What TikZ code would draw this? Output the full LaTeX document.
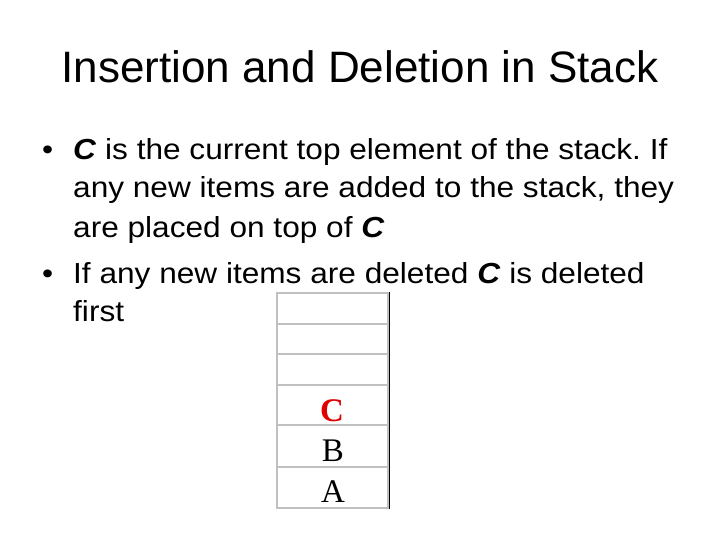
\documentclass[tikz,border=0pt]{standalone}
\usepackage{fontspec}
\setmainfont{Liberation Sans}
\newfontfamily\bodyfont[FakeStretch=1.09]{Liberation Sans}
\newfontfamily\stackfont{Liberation Serif}
\definecolor{cellgray}{RGB}{192,192,192}
\definecolor{topred}{RGB}{224,0,0}
\frenchspacing
\tikzset{
	line/.style={anchor=base west, inner sep=0pt, font=\fontsize{29}{29}\bodyfont},
	dot/.style={anchor=base west, inner sep=0pt, font=\fontsize{29}{29}\bodyfont},
	cell/.style={draw=cellgray, line width=2pt},
	item/.style={anchor=base, inner sep=0pt, font=\fontsize{33}{33}\stackfont}
}
\begin{document}
\begin{tikzpicture}[x=1pt, y=-1pt]
			%%%%% START %%%%%
			\useasboundingbox[fill=white] (0, 0) rectangle (720, 540);
			
			\node[anchor=base, inner sep=0pt, font=\fontsize{44}{44}\selectfont] (title) at (360, 83) {Insertion and Deletion in Stack};
			
			\node[dot] (b1) at (42, 160) {\textbullet};
			\node[line] (l1) at (73, 160) {\textbf{\textit{C}} is the current top element of the stack. If};
			\node[line] (l2) at (73, 198) {any new items are added to the stack, they};
			\node[line] (l3) at (73, 237) {are placed on top of \textbf{\textit{C}}};
			\node[dot] (b2) at (42, 283) {\textbullet};
			\node[line] (l4) at (73, 283) {If any new items are deleted \textbf{\textit{C}} is deleted};
			\node[line] (l5) at (73, 321) {first};
			
			\draw[cell] (277, 293) rectangle (388, 324);
			\draw[cell] (277, 324) rectangle (388, 354);
			\draw[cell] (277, 354) rectangle (388, 385);
			\draw[cell] (277, 385) rectangle (388, 425);
			\draw[cell] (277, 425) rectangle (388, 467);
			\draw[cell] (277, 467) rectangle (388, 508);
			\draw[line width=1.5pt] (389.5, 292) -- (389.5, 509);
			
			\node[item, text=topred] (c) at (332, 421) {\textbf{C}};
			\node[item] (b) at (333, 461) {B};
			\node[item] (a) at (333, 502) {A};
			
			%%%%% END %%%%%
		\end{tikzpicture}
\end{document}
